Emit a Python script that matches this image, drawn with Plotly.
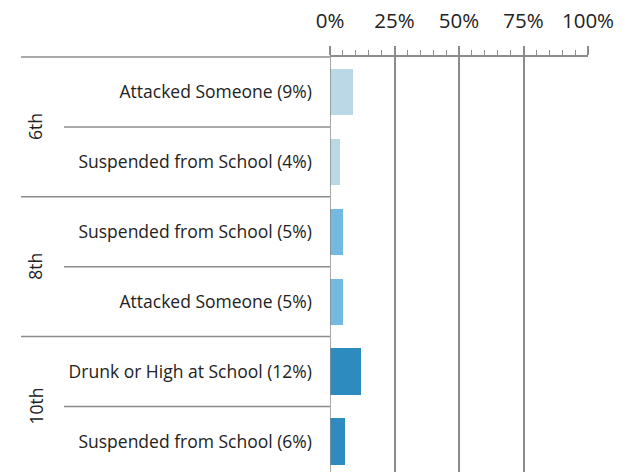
import plotly.graph_objects as go

groups = ["6th", "6th", "8th", "8th", "10th", "10th"]
items = ["Attacked Someone", "Suspended from School", "Suspended from School",
         "Attacked Someone", "Drunk or High at School", "Suspended from School"]
values = [9, 4, 5, 5, 12, 6]
group_names = ["6th", "8th", "10th"]
group_colors = {"6th": "#bad8e6", "8th": "#74b9e0", "10th": "#2e8bbf"}
tick_vals = [0, 25, 50, 75, 100]
tick_text = ["0%", "25%", "50%", "75%", "100%"]

labels = [f"{it} ({v}%)" for it, v in zip(items, values)]
rows = list(range(len(values)))
GRID = "#8c8c8c"
FONT = "Open Sans"

fig = go.Figure()
fig.add_trace(go.Bar(
    x=values, y=rows, orientation="h", width=0.66,
    marker=dict(color=[group_colors[g] for g in groups], line=dict(width=0)),
    showlegend=False, hoverinfo="skip",
))

fig.update_layout(
    width=628, height=472,
    margin=dict(l=330, r=40, t=57, b=0),
    paper_bgcolor="white", plot_bgcolor="white",
    font=dict(family=FONT, size=17.5, color="#222222"),
    bargap=0,
)
fig.update_xaxes(
    side="top", range=[0, 100], tickvals=tick_vals, ticktext=tick_text,
    showgrid=True, gridcolor=GRID, gridwidth=1.5,
    showline=True, linecolor=GRID, linewidth=1.5,
    ticks="outside", ticklen=9, tickcolor=GRID, tickwidth=1.5,
    ticklabelstandoff=10,
    tickfont=dict(size=20.5, color="#222222"),
    minor=dict(dtick=5, ticks="outside", ticklen=5, tickcolor=GRID, tickwidth=1, showgrid=False),
    zeroline=False, fixedrange=True,
)
fig.update_yaxes(
    range=[5.437, -0.5], tickvals=rows, ticktext=labels,
    showgrid=False, zeroline=False, showline=False, ticks="",
    ticklabelstandoff=17, tickfont=dict(size=17.5, color="#222222"),
    fixedrange=True,
)

shapes = []
shapes.append(dict(type="line", xref="x", yref="paper", x0=0, x1=0, y0=0, y1=1,
                   line=dict(color=GRID, width=1.5), layer="above"))
shapes.append(dict(type="line", xref="paper", yref="paper", x0=-309/258, x1=0, y0=1, y1=1,
                   line=dict(color=GRID, width=1.5)))
for i in range(1, len(values)):
    start = -309/258 if groups[i] != groups[i-1] else -266/258
    shapes.append(dict(type="line", xref="paper", yref="y", x0=start, x1=0,
                       y0=i - 0.5, y1=i - 0.5, line=dict(color=GRID, width=1.5)))
fig.update_layout(shapes=shapes)

annotations = []
for g in group_names:
    idx = [i for i, gg in enumerate(groups) if gg == g]
    center = (idx[0] + idx[-1]) / 2
    annotations.append(dict(xref="paper", yref="y", x=-295/258, y=center, text=g,
                            showarrow=False, textangle=-90, xanchor="center", yanchor="middle",
                            font=dict(family=FONT, size=17.5, color="#222222")))
fig.update_layout(annotations=annotations)

fig.write_html("out.html")
